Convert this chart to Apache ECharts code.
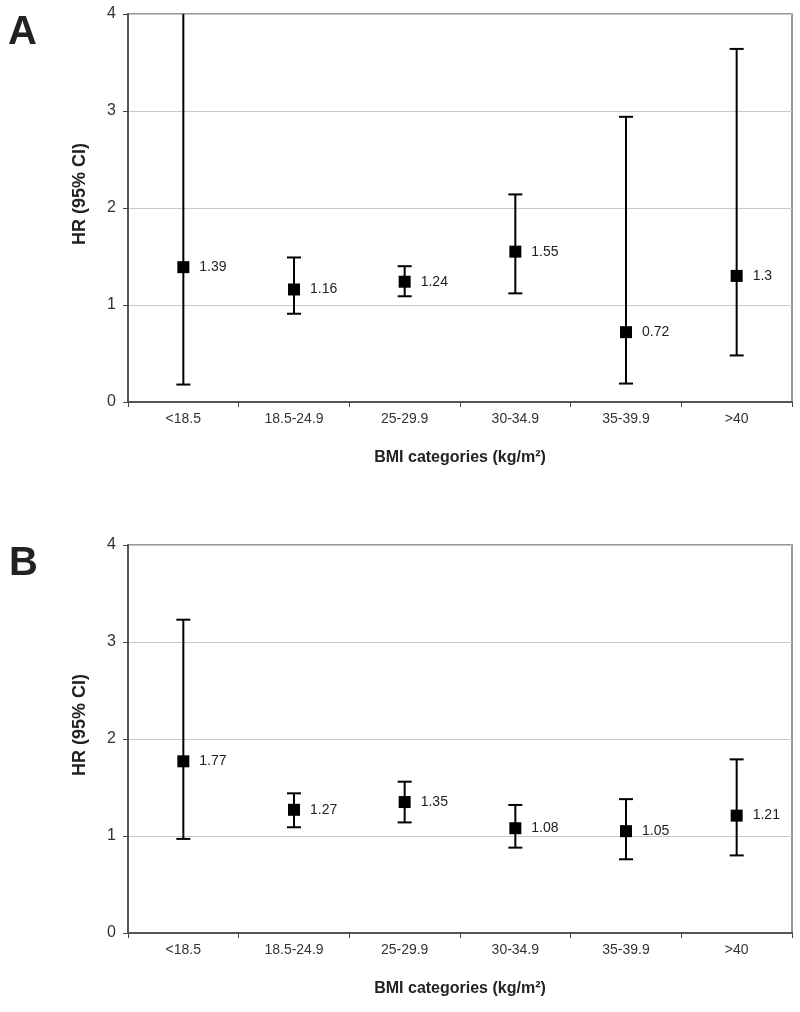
<!DOCTYPE html>
<html><head><meta charset="utf-8">
<script src="https://cdn.jsdelivr.net/npm/echarts@6/dist/echarts.min.js"></script>
<style>html,body{margin:0;padding:0;background:#fff}#c{width:800px;height:1012px}</style>
</head><body><div id="c"></div>
<script>
const categories = ['<18.5', '18.5-24.9', '25-29.9', '30-34.9', '35-39.9', '>40'];
const yTicks = [0, 1, 2, 3, 4];
// Panel A
const hrA    = [1.39, 1.16, 1.24, 1.55, 0.72, 1.30];
const lowerA = [0.18, 0.91, 1.09, 1.12, 0.19, 0.48];
const upperA = [4.00, 1.49, 1.40, 2.14, 2.94, 3.64];
// Panel B
const hrB    = [1.77, 1.27, 1.35, 1.08, 1.05, 1.21];
const lowerB = [0.97, 1.09, 1.14, 0.88, 0.76, 0.80];
const upperB = [3.23, 1.44, 1.56, 1.32, 1.38, 1.79];

const FONT = '"Liberation Sans", Arial, sans-serif';
const chart = echarts.init(document.getElementById('c'), null, {renderer: 'canvas'});
const yMax = yTicks[yTicks.length - 1];

function errSeries(idx, lower, upper) {
  return {
    type: 'custom', xAxisIndex: idx, yAxisIndex: idx, z: 3,
    data: categories.map((c, i) => [i, lower[i], upper[i]]),
    renderItem: function (params, api) {
      const x = api.value(0);
      const lo = api.coord([x, api.value(1)]);
      const hi = api.coord([x, api.value(2)]);
      const hw = 7;
      const st = {stroke: '#000', lineWidth: 2};
      const children = [
        {type: 'line', shape: {x1: lo[0], y1: lo[1], x2: hi[0], y2: hi[1]}, style: st},
        {type: 'line', shape: {x1: lo[0] - hw, y1: lo[1], x2: lo[0] + hw, y2: lo[1]}, style: st}
      ];
      if (api.value(2) < yMax) {
        children.push({type: 'line', shape: {x1: hi[0] - hw, y1: hi[1], x2: hi[0] + hw, y2: hi[1]}, style: st});
      }
      return {type: 'group', children: children};
    }
  };
}
function ptSeries(idx, hr) {
  return {
    type: 'scatter', xAxisIndex: idx, yAxisIndex: idx, z: 4,
    symbol: 'rect', symbolSize: 12,
    itemStyle: {color: '#000', opacity: 1},
    data: hr.map((v, i) => [i, v]),
    label: {show: true, position: 'right', distance: 10, color: '#222', fontSize: 14, fontFamily: FONT,
      formatter: p => String(p.value[1])},
    emphasis: {disabled: true}
  };
}
function xAx(idx) {
  return {
    type: 'category', gridIndex: idx, data: categories, boundaryGap: true,
    axisLine: {lineStyle: {color: '#555', width: 2}},
    axisTick: {show: true, alignWithLabel: false, length: 5, lineStyle: {color: '#444'}},
    axisLabel: {color: '#333', fontSize: 14, fontFamily: FONT, margin: 10},
    name: 'BMI categories (kg/m²)', nameLocation: 'middle', nameGap: 48,
    nameTextStyle: {fontSize: 16, fontWeight: 'bold', color: '#222', fontFamily: FONT}
  };
}
function yAx(idx) {
  return {
    type: 'value', gridIndex: idx, min: yTicks[0], max: yMax, interval: 1,
    axisLine: {show: true, lineStyle: {color: '#555', width: 2}},
    axisTick: {show: true, length: 5, lineStyle: {color: '#444'}},
    axisLabel: {color: '#333', fontSize: 16, fontFamily: FONT, margin: 12},
    splitLine: {show: true, lineStyle: {color: '#c8c8c8', width: 1}},
    name: 'HR (95% CI)', nameLocation: 'middle', nameGap: 39, nameRotate: 90,
    nameTextStyle: {fontSize: 18, fontWeight: 'bold', color: '#222', fontFamily: FONT, padding: [0, 0, 0, 28]}
  };
}

chart.setOption({
  backgroundColor: '#fff',
  animation: false,
  grid: [
    {left: 128, right: 8, top: 14, height: 388, show: true, borderColor: '#777', borderWidth: 1.5, backgroundColor: 'transparent'},
    {left: 128, right: 8, top: 545, height: 388, show: true, borderColor: '#777', borderWidth: 1.5, backgroundColor: 'transparent'}
  ],
  xAxis: [xAx(0), xAx(1)],
  yAxis: [yAx(0), yAx(1)],
  graphic: [
    {type: 'text', left: 8, top: 13, style: {text: 'A', font: 'bold 40px ' + FONT, fill: '#222'}},
    {type: 'text', left: 9, top: 544, style: {text: 'B', font: 'bold 40px ' + FONT, fill: '#222'}}
  ],
  series: [errSeries(0, lowerA, upperA), ptSeries(0, hrA), errSeries(1, lowerB, upperB), ptSeries(1, hrB)]
});
</script></body></html>
